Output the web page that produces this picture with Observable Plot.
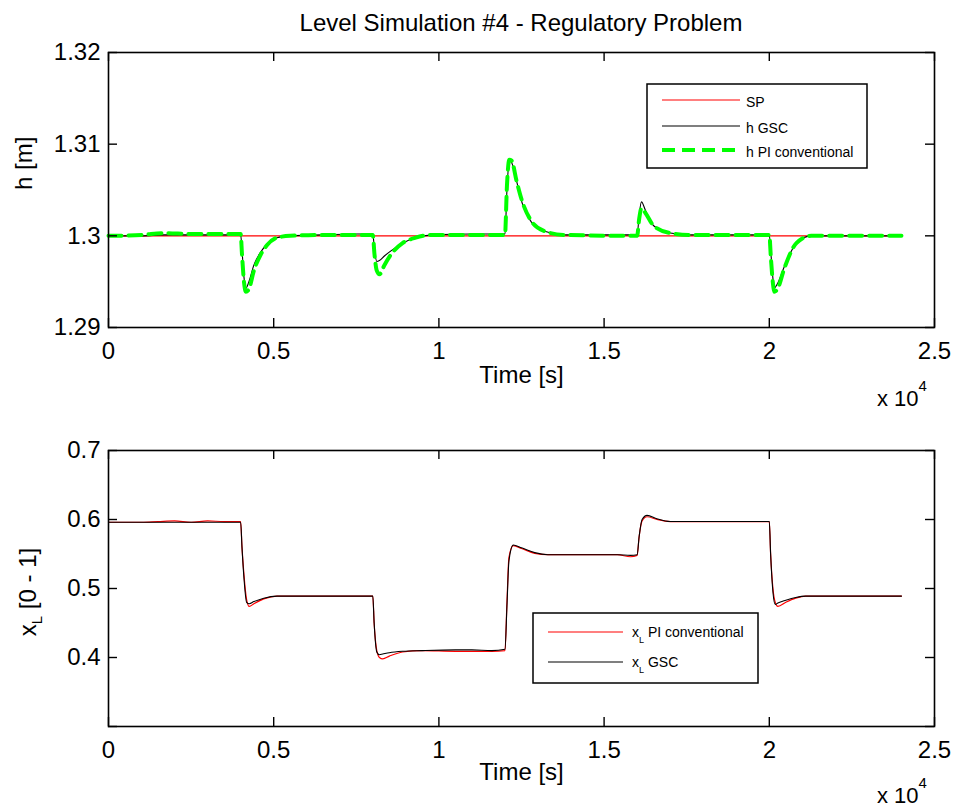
<!DOCTYPE html>
<html><head><meta charset="utf-8">
<script src="https://cdn.jsdelivr.net/npm/d3@7"></script>
<script src="https://cdn.jsdelivr.net/npm/@observablehq/plot@0.6"></script>
<style>
body{margin:0;background:#fff;}
#root{position:relative;width:958px;height:809px;overflow:hidden;background:#fff;font-family:"Liberation Sans",Arial,Helvetica,sans-serif;}
</style></head>
<body><div id="root"></div>
<script>
// ---------- data ----------
const xTickValues = [0, 5000, 10000, 15000, 20000, 25000];
const xTickLabels = ["0", "0.5", "1", "1.5", "2", "2.5"];
const hTickValues = [1.29, 1.30, 1.31, 1.32];
const hTickLabels = ["1.29", "1.3", "1.31", "1.32"];
const xLTickValues = [0.3, 0.4, 0.5, 0.6, 0.7];
const xLTickLabels = ["", "0.4", "0.5", "0.6", "0.7"];

const timeSP = [0, 24000];
const hSP = [1.3, 1.3];

const timeH = [0,1000,1700,2500,3500,4000,4040,4100,4160,4250,4400,4600,4800,5100,5500,6500,7500,8000,8050,8120,8200,8350,8600,8900,9300,9800,11000,12000,12060,12130,12200,12350,12500,12800,13200,13800,16000,16060,16130,16250,16500,17000,17600,20000,20050,20120,20150,20250,20450,20820,21270,24000];
const hGSC = [1.3000,1.3000,1.3001,1.3001,1.3001,1.3001,1.2985,1.2955,1.2943,1.2950,1.2968,1.2982,1.2991,1.2998,1.3000,1.3001,1.3002,1.3002,1.2985,1.2972,1.2973,1.2978,1.2985,1.2992,1.2998,1.3001,1.3002,1.3002,1.3050,1.3082,1.3080,1.3060,1.3038,1.3015,1.3005,1.3001,1.3001,1.3022,1.3037,1.3028,1.3011,1.3003,1.3001,1.3001,1.2980,1.2950,1.2943,1.2948,1.2966,1.2992,1.3000,1.3000];
const hPI  = [1.3000,1.3001,1.3003,1.3002,1.3002,1.3002,1.2980,1.2950,1.2939,1.2942,1.2962,1.2979,1.2990,1.2998,1.3000,1.3001,1.3001,1.3001,1.2980,1.2962,1.2958,1.2968,1.2982,1.2992,1.2998,1.3001,1.3001,1.3001,1.3055,1.3083,1.3082,1.3060,1.3040,1.3016,1.3005,1.3001,1.3000,1.3018,1.3030,1.3025,1.3011,1.3003,1.3001,1.3001,1.2975,1.2945,1.2939,1.2942,1.2964,1.2992,1.3000,1.3000];

const timeXL = [0,500,1000,1500,2000,2500,3000,3500,4000,4040,4100,4180,4260,4400,4700,5100,8000,8040,8120,8200,8300,8500,8900,9500,10500,11000,11600,12000,12060,12120,12250,12500,12900,13300,15400,15800,16000,16060,16150,16300,16600,17000,20000,20040,20110,20180,20260,20500,20800,21100,24000];
const xLPI  = [0.596,0.596,0.596,0.597,0.598,0.596,0.598,0.597,0.597,0.560,0.520,0.484,0.474,0.478,0.485,0.489,0.489,0.450,0.410,0.400,0.398,0.402,0.408,0.410,0.409,0.409,0.409,0.410,0.480,0.545,0.562,0.558,0.551,0.549,0.549,0.546,0.548,0.575,0.598,0.604,0.600,0.597,0.597,0.550,0.500,0.480,0.474,0.480,0.486,0.489,0.489];
const xLGSC = [0.596,0.596,0.596,0.596,0.596,0.596,0.596,0.596,0.596,0.560,0.515,0.480,0.478,0.481,0.486,0.489,0.489,0.450,0.408,0.404,0.405,0.407,0.409,0.410,0.411,0.411,0.410,0.412,0.475,0.540,0.563,0.559,0.552,0.549,0.549,0.548,0.549,0.575,0.600,0.606,0.601,0.597,0.597,0.550,0.495,0.477,0.479,0.483,0.487,0.489,0.489];

// ---------- tables ----------
const spRows = timeSP.map((t, i) => ({t, h: hSP[i]}));
const hRows = timeH.map((t, i) => ({t, gsc: hGSC[i], pi: hPI[i]}));
const xlRows = timeXL.map((t, i) => ({t, pi: xLPI[i], gsc: xLGSC[i]}));

const fontFamily = '"Liberation Sans", Arial, Helvetica, sans-serif';
const W = 958, ML = 108, MR = 24;
const FW = W - ML - MR;
const TL = 9;
const X_DOMAIN = [0, 25000];
const fmtX = d => xTickLabels[xTickValues.indexOf(d)];
const fmtH = d => hTickLabels[hTickValues.indexOf(d)];
const fmtXL = d => xLTickLabels[xLTickValues.indexOf(d)];
const style = {fontSize: "24px", fontFamily, color: "#000", background: "transparent", overflow: "visible"};

// inward (MATLAB-style) tick marks on all four sides, lengths derived from TL pixels
function tickMarks(yVals, yDomain, fh) {
  const xLen = (X_DOMAIN[1] - X_DOMAIN[0]) * TL / FW;
  const yLen = (yDomain[1] - yDomain[0]) * TL / fh;
  const s = {stroke: "#000", strokeWidth: 1.4};
  return [
    Plot.ruleY(yVals, {y: d => d, x1: X_DOMAIN[0], x2: X_DOMAIN[0] + xLen, ...s}),
    Plot.ruleY(yVals, {y: d => d, x1: X_DOMAIN[1] - xLen, x2: X_DOMAIN[1], ...s}),
    Plot.ruleX(xTickValues, {x: d => d, y1: yDomain[0], y2: yDomain[0] + yLen, ...s}),
    Plot.ruleX(xTickValues, {x: d => d, y1: yDomain[1] - yLen, y2: yDomain[1], ...s})
  ];
}

// top plot
const H1 = 400, MT1 = 52, MB1 = 73;
const H_DOMAIN = [1.29, 1.32];
const topPlot = Plot.plot({
  width: W, height: H1, marginTop: MT1, marginBottom: MB1, marginLeft: ML, marginRight: MR,
  style,
  x: {domain: X_DOMAIN},
  y: {domain: H_DOMAIN},
  marks: [
    Plot.line(spRows, {x: "t", y: "h", stroke: "#ff0000", strokeWidth: 1.2}),
    Plot.line(hRows, {x: "t", y: "gsc", stroke: "#000", strokeWidth: 1.1, curve: "monotone-x"}),
    Plot.line(hRows, {x: "t", y: "pi", stroke: "#00ff00", strokeWidth: 4, strokeDasharray: "13,7", curve: "monotone-x"}),
    ...tickMarks(hTickValues, H_DOMAIN, H1 - MT1 - MB1),
    Plot.frame({stroke: "#000", strokeWidth: 1.6}),
    Plot.axisX(xTickValues, {tickSize: 0, tickPadding: 14, tickFormat: fmtX, label: null}),
    Plot.axisY(hTickValues, {tickSize: 0, tickPadding: 8, tickFormat: fmtH, label: null}),
    Plot.text(["Time [s]"], {text: d => d, frameAnchor: "bottom", dy: 55, fontSize: 24}),
    Plot.text(["h [m]"], {text: d => d, frameAnchor: "left", dx: -84, rotate: -90, fontSize: 24})
  ]
});

// bottom plot
const H2 = 409, MT2 = 50, MB2 = 83;
const XL_DOMAIN = [0.3, 0.7];
const botPlot = Plot.plot({
  width: W, height: H2, marginTop: MT2, marginBottom: MB2, marginLeft: ML, marginRight: MR,
  style,
  x: {domain: X_DOMAIN},
  y: {domain: XL_DOMAIN},
  marks: [
    Plot.line(xlRows, {x: "t", y: "pi", stroke: "#ff0000", strokeWidth: 1.2, curve: "monotone-x"}),
    Plot.line(xlRows, {x: "t", y: "gsc", stroke: "#000", strokeWidth: 1.1, curve: "monotone-x"}),
    ...tickMarks(xLTickValues, XL_DOMAIN, H2 - MT2 - MB2),
    Plot.frame({stroke: "#000", strokeWidth: 1.6}),
    Plot.axisX(xTickValues, {tickSize: 0, tickPadding: 14, tickFormat: fmtX, label: null}),
    Plot.axisY(xLTickValues, {tickSize: 0, tickPadding: 8, tickFormat: fmtXL, label: null}),
    Plot.text(["Time [s]"], {text: d => d, frameAnchor: "bottom", dy: 53, fontSize: 24})
  ]
});

const root = document.getElementById("root");
[[topPlot, 0], [botPlot, 400]].forEach(([el, top]) => {
  el.style.position = "absolute"; el.style.left = "0px"; el.style.top = top + "px";
  root.appendChild(el);
});

// ---------- overlay: title, legends, special labels ----------
const ov = d3.select(root).append("svg")
  .attr("width", W).attr("height", 809)
  .style("position", "absolute").style("left", "0px").style("top", "0px")
  .style("pointer-events", "none")
  .style("font-family", fontFamily);

ov.append("text").attr("x", 521).attr("y", 22).attr("text-anchor", "middle")
  .attr("dominant-baseline", "central").attr("font-size", 24).text("Level Simulation #4 - Regulatory Problem");

// x 10^4 labels
[406, 803].forEach(by => {
  const t = ov.append("text").attr("x", 877).attr("y", by).attr("font-size", 22);
  t.append("tspan").text("x 10");
  t.append("tspan").attr("font-size", 15).attr("dy", -15).text("4");
});

// bottom y label
{
  const g = ov.append("g").attr("transform", "translate(36,592) rotate(-90)");
  const t = g.append("text").attr("text-anchor", "middle").attr("font-size", 24);
  t.append("tspan").text("x");
  t.append("tspan").attr("font-size", 15).attr("dy", 6).text("L");
  t.append("tspan").attr("dy", -6).text(" [0 - 1]");
}

// top legend
{
  const g = ov.append("g");
  g.append("rect").attr("x", 647).attr("y", 84).attr("width", 220).attr("height", 84)
    .attr("fill", "#fff").attr("stroke", "#000").attr("stroke-width", 1.5);
  const items = [
    {y: 100, label: "SP", stroke: "#ff0000", w: 1.2, dash: null},
    {y: 126, label: "h GSC", stroke: "#000", w: 1.1, dash: null},
    {y: 150, label: "h PI conventional", stroke: "#00ff00", w: 4, dash: "13,7"}
  ];
  items.forEach(it => {
    g.append("line").attr("x1", 662).attr("x2", 740).attr("y1", it.y).attr("y2", it.y)
      .attr("stroke", it.stroke).attr("stroke-width", it.w).attr("stroke-dasharray", it.dash);
    g.append("text").attr("x", 746).attr("y", it.y + 2).attr("dominant-baseline", "central")
      .attr("font-size", 14).text(it.label);
  });
}

// bottom legend
{
  const g = ov.append("g");
  g.append("rect").attr("x", 533).attr("y", 613).attr("width", 225).attr("height", 70)
    .attr("fill", "#fff").attr("stroke", "#000").attr("stroke-width", 1.5);
  const items = [
    {y: 632, label: " PI conventional", stroke: "#ff0000"},
    {y: 662, label: " GSC", stroke: "#000"}
  ];
  items.forEach(it => {
    g.append("line").attr("x1", 548).attr("x2", 623).attr("y1", it.y).attr("y2", it.y)
      .attr("stroke", it.stroke).attr("stroke-width", 1.2);
    const t = g.append("text").attr("x", 632).attr("y", it.y + 5).attr("font-size", 14);
    t.append("tspan").text("x");
    t.append("tspan").attr("font-size", 9).attr("dy", 6).text("L");
    t.append("tspan").attr("dy", -6).text(it.label);
  });
}
</script>
</body></html>
